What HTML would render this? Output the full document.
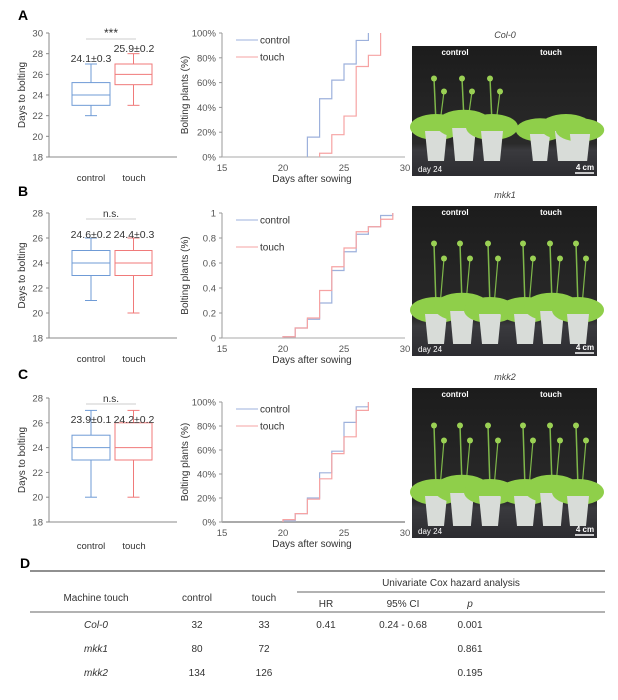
<!DOCTYPE html>
<html><head><meta charset="utf-8"><style>
body{margin:0;background:#fff;width:618px;height:700px;overflow:hidden;font-family:"Liberation Sans",sans-serif}
svg{position:absolute;left:0;top:0}
</style></head><body>
<svg id="s" width="618" height="700" viewBox="0 0 618 700" font-family="Liberation Sans, sans-serif"></svg>
<script>
const s=document.getElementById('s');let h='';
const T=(x,y,t,o={})=>{h+=`<text x="${x}" y="${y}" font-size="${o.fs||9}" fill="${o.c||'#333'}" text-anchor="${o.a||'middle'}" ${o.w?'font-weight="bold"':''} ${o.i?'font-style="italic"':''} ${o.r?`transform="rotate(-90 ${x} ${y})"`:''}>${t}</text>`};
const L=(x1,y1,x2,y2,c='#888',w=1)=>{h+=`<line x1="${x1}" y1="${y1}" x2="${x2}" y2="${y2}" stroke="${c}" stroke-width="${w}"/>`};
const B='#6f9bd6',R='#f07a7a',KB='#9db1dc',KR='#f6a3a3';
const panels=[
 {lab:'A',ly:20,top:33,bot:157,kt:33,max:30,ticks:['100%','80%','60%','40%','20%','0%'],stat:'***',a1:'24.1±0.3',a2:'25.9±0.2',a1y:62,a2y:52,
  box:[[22,23,24,25.2,27],[23,25,26,27,28]],
  kc:[[22,.16],[23,.47],[24,.62],[25,.75],[26,.94],[27,1]],kk:[[23,.03],[24,.18],[25,.33],[26,.73],[27,.82],[28,1]],photo:'Col-0',py:46},
 {lab:'B',ly:196,top:213,bot:338,kt:213,max:28,ticks:['1','0.8','0.6','0.4','0.2','0'],stat:'n.s.',a1:'24.6±0.2',a2:'24.4±0.3',a1y:238,a2y:238,
  box:[[21,23,24,25,26],[20,23,24,25,26]],
  kc:[[20,.01],[21,.08],[22,.15],[23,.28],[24,.54],[25,.69],[26,.83],[27,.89],[28,.98],[29,1]],kk:[[20,.01],[21,.08],[22,.16],[23,.38],[24,.57],[25,.72],[26,.85],[27,.89],[28,.95],[29,1]],photo:'mkk1',py:206},
 {lab:'C',ly:379,top:398,bot:522,kt:402,max:28,ticks:['100%','80%','60%','40%','20%','0%'],stat:'n.s.',a1:'23.9±0.1',a2:'24.2±0.2',a1y:423,a2y:423,
  box:[[20,23,24,25,27],[20,23,24,26,27]],
  kc:[[20,.01],[21,.07],[22,.2],[23,.41],[24,.59],[25,.83],[26,.96],[27,1]],kk:[[20,.02],[21,.07],[22,.19],[23,.36],[24,.57],[25,.71],[26,.93],[27,1]],photo:'mkk2',py:388}];
panels.forEach(p=>{
 T(18,p.ly,p.lab,{fs:14,w:1,c:'#000',a:'start'});
 const Y=v=>p.bot-(v-18)/(p.max-18)*(p.bot-p.top);
 L(49,p.top,49,p.bot);L(49,p.bot,177,p.bot);
 for(let v=18;v<=p.max;v+=2){L(46,Y(v),49,Y(v));T(43,Y(v)+3.5,v,{fs:9.5,a:'end',c:'#555'});}
 T(25,(p.top+p.bot)/2,'Days to bolting',{fs:10,r:1});
 [[72,110,B],[115,152,R]].forEach((b,i)=>{const d=p.box[i],c=b[2],m=(b[0]+b[1])/2;
  L(m,Y(d[0]),m,Y(d[1]),c);L(m,Y(d[3]),m,Y(d[4]),c);L(m-6,Y(d[0]),m+6,Y(d[0]),c);L(m-6,Y(d[4]),m+6,Y(d[4]),c);
  h+=`<rect x="${b[0]}" y="${Y(d[3])}" width="${b[1]-b[0]}" height="${Y(d[1])-Y(d[3])}" fill="none" stroke="${c}"/>`;L(b[0],Y(d[2]),b[1],Y(d[2]),c);});
 L(86,p.top+6,136,p.top+6,'#ccc');T(111,p.top+4,p.stat,{fs:p.stat=='***'?12:10,c:'#333'});
 T(91,p.a1y,p.a1,{fs:10.5});T(134,p.a2y,p.a2,{fs:10.5});
 const cy=p.lab=='C'?549:p.bot+24;
 T(91,cy,'control',{fs:9.5});T(134,cy,'touch',{fs:9.5});
 const X=d=>222+(d-15)*12.2,KY=v=>p.bot-v*(p.bot-p.kt);
 L(222,p.kt,222,p.bot,'#999');L(222,p.bot,405,p.bot,'#aaa',p.lab=='C'?2:1);
 p.ticks.forEach((t,i)=>{const y=KY(1-i*0.2);L(219,y,222,y,'#999');T(216,y+3.5,t,{fs:9.5,a:'end',c:'#555'});});
 [15,20,25,30].forEach(d=>T(X(d),p.bot+14,d,{fs:9.5,c:'#555'}));
 T(312,p.bot+25,'Days after sowing',{fs:10});
 T(188,(p.kt+p.bot)/2,'Bolting plants (%)',{fs:10,r:1});
 [[p.kc,KB],[p.kk,KR]].forEach(([pts,c])=>{let d=`M${X(pts[0][0])},${KY(0)}`;pts.forEach((q,i)=>{d+=` L${X(q[0])},${KY(q[1])}`;if(i<pts.length-1)d+=` L${X(pts[i+1][0])},${KY(q[1])}`;});h+=`<path d="${d}" fill="none" stroke="${c}" stroke-width="1.2"/>`;});
 const ly1=p.kt+7,ly2=p.kt+(p.lab=='B'?34:24);
 L(236,ly1,258,ly1,KB);T(260,ly1+3.5,'control',{fs:10,a:'start'});L(236,ly2,258,ly2,KR);T(260,ly2+3.5,'touch',{fs:10,a:'start'});
 T(505,p.py-8,p.photo,{fs:9,i:1,c:'#444'});
 const py=p.py,ph=p.lab=='A'?130:150;
 h+=`<defs><linearGradient id="g${p.lab}" x1="0" y1="0" x2="0" y2="1"><stop offset="0" stop-color="#1c1c1c"/><stop offset="0.75" stop-color="#2a2a2a"/><stop offset="0.8" stop-color="#3a3a3e"/><stop offset="1" stop-color="#2c2c30"/></linearGradient></defs>`;
 h+=`<rect x="412" y="${py}" width="185" height="${ph}" fill="url(#g${p.lab})"/>`;
 T(455,py+9,'control',{fs:8,w:1,c:'#fff'});T(551,py+9,'touch',{fs:8,w:1,c:'#fff'});
 const pots=p.lab=='A'?[[436,1],[464,1.1],[492,1],[540,.9],[566,1],[580,.9]]:[[436,1],[462,1.1],[490,1],[525,1],[552,1.1],[578,1]];
 pots.forEach(([x,sc])=>{const yb=py+ph-(p.lab=='A'?15:12);const w=18*sc,hh=30*sc;
  if(p.lab!='A'||x<520){L(x,yb-hh-8,x-2,py+ph*0.25,'#7fb84a',1.5);L(x+4,yb-hh-8,x+8,py+ph*0.35,'#7fb84a',1.2);
   h+=`<circle cx="${x-2}" cy="${py+ph*0.25}" r="3" fill="#9ad054"/><circle cx="${x+8}" cy="${py+ph*0.35}" r="3" fill="#9ad054"/>`;}
  h+=`<ellipse cx="${x}" cy="${yb-hh-4}" rx="${w+8}" ry="${13*sc}" fill="#8fcf4a"/>`;
  h+=`<path d="M${x-w/2-2},${yb-hh} L${x+w/2+2},${yb-hh} L${x+w/2-1},${yb} L${x-w/2+1},${yb} Z" fill="#d8dcd8"/>`;});
 T(418,py+ph-4,'day  24',{fs:8,c:'#fff',a:'start'});T(585,py+ph-6,'4 cm',{fs:8,w:1,c:'#fff'});L(575,py+ph-3,594,py+ph-3,'#fff',1.5);
});
T(20,568,'D',{fs:14,w:1,c:'#000',a:'start'});
L(30,571,605,571,'#222',1);L(297,592,605,592,'#666',1);L(30,612,605,612,'#666',1);
T(451,586,'Univariate Cox hazard analysis',{fs:10});
T(96,601,'Machine touch',{fs:10});T(197,601,'control',{fs:10});T(264,601,'touch',{fs:10});
T(326,607,'HR',{fs:10});T(403,607,'95% CI',{fs:10});T(470,607,'p',{fs:10,i:1});
[['Col-0','32','33','0.41','0.24 - 0.68','0.001',628],['mkk1','80','72','','','0.861',652],['mkk2','134','126','','','0.195',676]].forEach(r=>{
 T(96,r[6],r[0],{fs:10,i:1});T(197,r[6],r[1],{fs:10});T(264,r[6],r[2],{fs:10});T(326,r[6],r[3],{fs:10});T(403,r[6],r[4],{fs:10});T(470,r[6],r[5],{fs:10});});
s.innerHTML=h;
</script>
</body></html>
